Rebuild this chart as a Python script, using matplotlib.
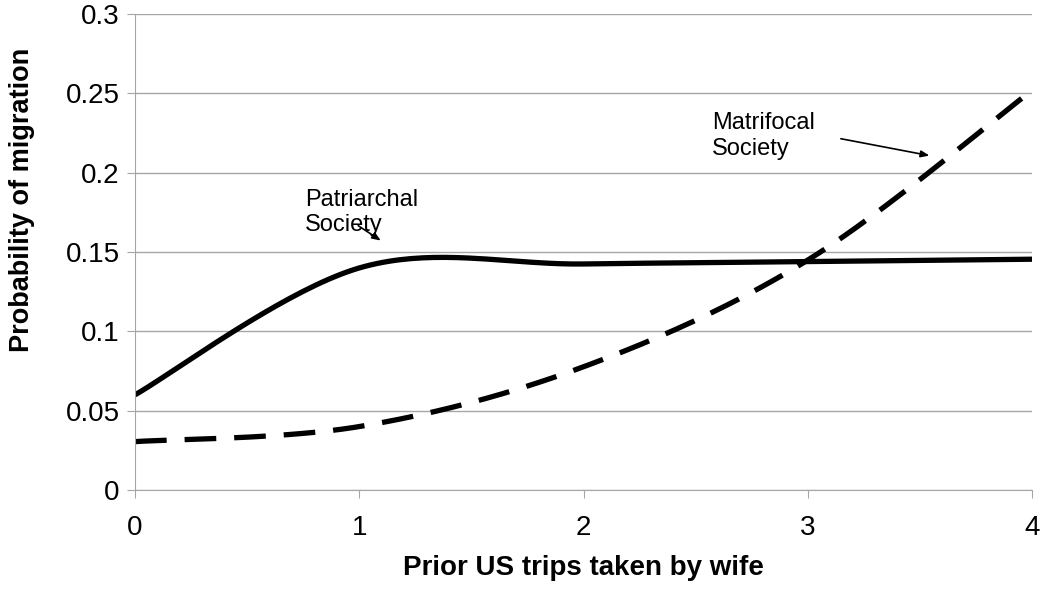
import numpy as np
import matplotlib
matplotlib.use("Agg")
import matplotlib.pyplot as plt

plt.rcParams['font.family'] = ['Liberation Sans', 'DejaVu Sans']

trips = [0, 1, 2, 3, 4]
patriarchal = [0.060, 0.140, 0.1425, 0.1440, 0.1455]
matrifocal = [0.0305, 0.040, 0.0777, 0.145, 0.252]


def smooth(xs, ys, n=40):
    # Excel-style smoothed line: cubic Bezier with 1/6 tangent control points
    p = np.column_stack([xs, ys]).astype(float)
    ext = np.vstack([p[0], p, p[-1]])
    out = []
    t = np.linspace(0, 1, n)[:, None]
    for i in range(len(p) - 1):
        p0, p1, p2, p3 = ext[i], ext[i + 1], ext[i + 2], ext[i + 3]
        c1 = p1 + (p2 - p0) / 6
        c2 = p2 - (p3 - p1) / 6
        seg = ((1 - t) ** 3) * p1 + 3 * ((1 - t) ** 2) * t * c1 + 3 * (1 - t) * t ** 2 * c2 + t ** 3 * p2
        out.append(seg if i == 0 else seg[1:])
    out = np.vstack(out)
    return out[:, 0], out[:, 1]


fig = plt.figure(figsize=(10.5, 5.9), dpi=100)
ax = fig.add_axes([0.1286, 0.1695, 0.8544, 0.8065])

x, y = smooth(trips, patriarchal)
ax.plot(x, y, color='black', lw=3.8, solid_capstyle='butt')
x, y = smooth(trips, matrifocal)
ax.plot(x, y, color='black', lw=3.8, dashes=(6, 3.4), dash_capstyle='butt')

ax.set_xlim(0, 4)
ax.set_ylim(0, 0.3)
ax.set_xticks(trips)
ax.set_yticks(np.arange(0, 0.301, 0.05))
ax.set_yticklabels(['0', '0.05', '0.1', '0.15', '0.2', '0.25', '0.3'])
ax.grid(axis='y', color='#a6a6a6', lw=1)
ax.set_axisbelow(True)
for s in ['top', 'right']:
    ax.spines[s].set_visible(False)
for s in ['left', 'bottom']:
    ax.spines[s].set_color('#a6a6a6')
ax.tick_params(axis='both', colors='#a6a6a6', labelcolor='black', labelsize=20, length=6, direction='out', pad=5)
ax.tick_params(axis='x', pad=12)

ax.set_xlabel('Prior US trips taken by wife', fontsize=20, fontweight='bold', labelpad=10)
ax.set_ylabel('Probability of migration', fontsize=19.5, fontweight='bold')
ax.yaxis.set_label_coords(-0.112, 0.61)

ax.text(0.758, 0.190, 'Patriarchal\nSociety', fontsize=17, va='top', ha='left', linespacing=1.2)
ax.annotate('', xy=(1.106, 0.1563), xytext=(0.985, 0.1676),
            arrowprops=dict(arrowstyle='-|>,head_length=0.5,head_width=0.2', color='black', lw=1.2))
ax.text(2.573, 0.238, 'Matrifocal\nSociety', fontsize=17, va='top', ha='left', linespacing=1.2)
ax.annotate('', xy=(3.554, 0.2105), xytext=(3.135, 0.2218),
            arrowprops=dict(arrowstyle='-|>,head_length=0.5,head_width=0.2', color='black', lw=1.2))

fig.savefig('out.png', dpi=100)
